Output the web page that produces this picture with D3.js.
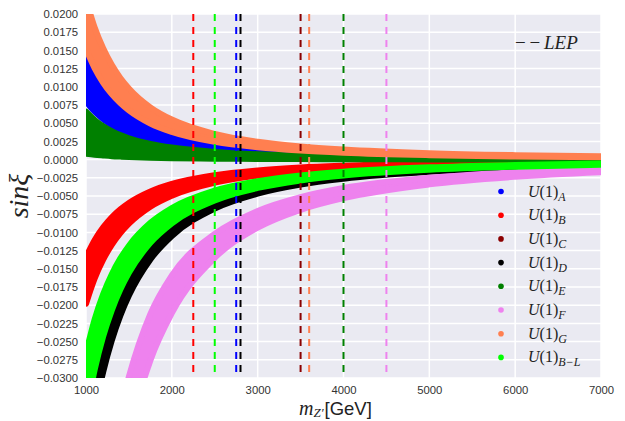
<!DOCTYPE html>
<html>
<head>
<meta charset="utf-8">
<script src="https://cdn.jsdelivr.net/npm/d3@7"></script>
<style>
  body { margin: 0; background: #fff; }
  text { font-family: "Liberation Sans", Arial, sans-serif; }
</style>
</head>
<body>
<div id="my_dataviz"></div>
<script>
const masses = [1000, 1100, 1200, 1300, 1400, 1500, 1750, 2000, 2500, 3000, 3500, 4000, 5000, 6000, 7000];

// sin(xi) band edges for each model
const aUpper  = [0.0152, 0.01256, 0.01056, 0.00899, 0.00776, 0.00676, 0.00496, 0.0038, 0.00243, 0.00169, 0.00124, 0.00095, 0.00061, 0.00042, 0.00031];
const aLower  = [0.0080, 0.00661, 0.00556, 0.00473, 0.00408, 0.00356, 0.00261, 0.0020, 0.00128, 0.00089, 0.00065, 0.0005, 0.00032, 0.00022, 0.00016];
const bUpper  = [-0.0134, -0.01107, -0.00931, -0.00793, -0.00684, -0.00596, -0.00438, -0.00335, -0.00214, -0.00149, -0.00109, -0.00084, -0.00054, -0.00037, -0.00027];
const bLower  = [-0.0198, -0.01636, -0.01375, -0.01172, -0.0101, -0.0088, -0.00646, -0.00495, -0.00317, -0.0022, -0.00162, -0.00124, -0.00079, -0.00055, -0.0004];
const dUpper  = [-0.032, -0.02645, -0.02222, -0.01893, -0.01633, -0.01422, -0.01045, -0.008, -0.00512, -0.00356, -0.00261, -0.002, -0.00128, -0.00089, -0.00065];
const dLower  = [-0.042, -0.03471, -0.02917, -0.02485, -0.02143, -0.01867, -0.01371, -0.0105, -0.00672, -0.00467, -0.00343, -0.00263, -0.00168, -0.00117, -0.00086];
const eUpper  = [0.0066, 0.00545, 0.00458, 0.00391, 0.00337, 0.00293, 0.00216, 0.00165, 0.00106, 0.00073, 0.00054, 0.00041, 0.00026, 0.00018, 0.00013];
const eLower  = [0.0008, 0.00066, 0.00056, 0.00047, 0.00041, 0.00036, 0.00026, 0.0002, 0.00013, 0.00009, 0.00007, 0.00005, 0.00003, 0.00002, 0.00002];
const fUpper  = [-0.066, -0.0545, -0.0465, -0.0400, -0.0344, -0.0298, -0.0212, -0.0159, -0.01020, -0.00705, -0.00515, -0.0039, -0.00250, -0.00172, -0.00128];
const fLower  = [-0.086, -0.0711, -0.0600, -0.0515, -0.0440, -0.0378, -0.0276, -0.0211, -0.01350, -0.00935, -0.00690, -0.00530, -0.00340, -0.00236, -0.00174];
const gUpper  = [0.0220, 0.01818, 0.01528, 0.01302, 0.01122, 0.00978, 0.00718, 0.0055, 0.00352, 0.00244, 0.0018, 0.00138, 0.00088, 0.00061, 0.00045];
const gLower  = [0.0152, 0.01256, 0.01056, 0.00899, 0.00776, 0.00676, 0.00496, 0.0038, 0.00243, 0.00169, 0.00124, 0.00095, 0.00061, 0.00042, 0.00031];
const blUpper = [-0.0266, -0.02198, -0.01847, -0.01574, -0.01357, -0.01182, -0.00869, -0.00665, -0.00426, -0.00296, -0.00217, -0.00166, -0.00106, -0.00074, -0.00054];
const blLower = [-0.035, -0.02893, -0.0243, -0.02071, -0.01786, -0.01556, -0.01143, -0.00875, -0.0056, -0.00389, -0.00286, -0.00219, -0.0014, -0.00097, -0.00071];

// legend order
const models = ["A", "B", "C", "D", "E", "F", "G", "B\u2212L"];
const colors = ["blue", "red", "darkred", "black", "green", "violet", "coral", "lime"];
// LEP lower limits on m_Z' (GeV), same order as models
const lepLimits = [2750, 2250, 3500, 2800, 4000, 4500, 3600, 2500];

const xTicks = [1000, 2000, 3000, 4000, 5000, 6000, 7000];
const yTicks = [0.02, 0.0175, 0.015, 0.0125, 0.01, 0.0075, 0.005, 0.0025, 0, -0.0025, -0.005, -0.0075, -0.01,
                -0.0125, -0.015, -0.0175, -0.02, -0.0225, -0.025, -0.0275, -0.03];

// drawing order of the bands (later ones on top)
const bands = [
  {color: "blue",   upper: aUpper,  lower: aLower},
  {color: "red",    upper: bUpper,  lower: bLower},
  {color: "black",  upper: dUpper,  lower: dLower},
  {color: "green",  upper: eUpper,  lower: eLower},
  {color: "violet", upper: fUpper,  lower: fLower},
  {color: "coral",  upper: gUpper,  lower: gLower},
  {color: "lime",   upper: blUpper, lower: blLower}
];

const width = 625, height = 421;
const margin = {top: 14, right: 24, bottom: 43, left: 86};
const w = width - margin.left - margin.right;
const h = height - margin.top - margin.bottom;

const svg = d3.select("#my_dataviz")
  .append("svg")
    .attr("width", width)
    .attr("height", height)
  .append("g")
    .attr("transform", `translate(${margin.left},${margin.top})`);

const x = d3.scaleLinear().domain([1000, 7000]).range([0, w]);
const y = d3.scaleLinear().domain([-0.03, 0.02]).range([h, 0]);

// background + grid (seaborn darkgrid look)
svg.append("rect").attr("width", w).attr("height", h).attr("fill", "#EAEAF2");
svg.selectAll("line.gx").data(xTicks).join("line")
  .attr("class", "gx")
  .attr("x1", d => x(d)).attr("x2", d => x(d))
  .attr("y1", 0).attr("y2", h)
  .attr("stroke", "white").attr("stroke-width", 1.5);
svg.selectAll("line.gy").data(yTicks).join("line")
  .attr("class", "gy")
  .attr("y1", d => y(d)).attr("y2", d => y(d))
  .attr("x1", 0).attr("x2", w)
  .attr("stroke", "white").attr("stroke-width", 1.5);

svg.append("clipPath").attr("id", "clip")
  .append("rect").attr("width", w).attr("height", h);

const plot = svg.append("g").attr("clip-path", "url(#clip)");

// the scatter bands: area + thick stroke of same colour mimics the marker size
const area = d3.area()
  .x((d, i) => x(masses[i]))
  .y0(d => y(d[1]))
  .y1(d => y(d[0]))
  .curve(d3.curveMonotoneX);

plot.selectAll("path.band")
  .data(bands)
  .join("path")
    .attr("class", "band")
    .attr("d", b => area(b.upper.map((u, i) => [u, b.lower[i]])))
    .attr("fill", b => b.color)
    .attr("stroke", b => b.color)
    .attr("stroke-width", 6)
    .attr("stroke-linejoin", "round");

// LEP limits, dashed
plot.selectAll("line.lep")
  .data(lepLimits)
  .join("line")
    .attr("class", "lep")
    .attr("x1", d => x(d)).attr("x2", d => x(d))
    .attr("y1", 0).attr("y2", h)
    .attr("stroke", (d, i) => colors[i])
    .attr("stroke-width", 2)
    .attr("stroke-dasharray", "7,6");

// axes (labels only)
const xAxis = svg.append("g")
  .attr("transform", `translate(0,${h})`)
  .call(d3.axisBottom(x).tickValues(xTicks).tickSize(0).tickPadding(8).tickFormat(d3.format("d")));
const yAxis = svg.append("g")
  .call(d3.axisLeft(y).tickValues(yTicks).tickSize(0).tickPadding(8).tickFormat(d3.format(".4f")));
[xAxis, yAxis].forEach(a => {
  a.select(".domain").remove();
  a.selectAll("text")
    .style("font-family", "'Liberation Sans', Arial, sans-serif")
    .style("font-size", "11.3px")
    .attr("fill", "#333");
});

// axis titles
svg.append("text")
  .attr("transform", `translate(${28 - margin.left},${196 - margin.top}) rotate(-90)`)
  .attr("text-anchor", "middle")
  .style("font-family", "'Liberation Serif', serif")
  .style("font-style", "italic")
  .style("font-size", "28px")
  .attr("fill", "#222")
  .text("sin\u03be");

const xl = svg.append("text")
  .attr("x", 299 - margin.left)
  .attr("y", 415 - margin.top)
  .attr("fill", "#222");
xl.append("tspan")
  .style("font-family", "'Liberation Serif', serif").style("font-style", "italic").style("font-size", "20px")
  .text("m");
xl.append("tspan")
  .attr("dy", 2)
  .style("font-family", "'Liberation Serif', serif").style("font-style", "italic").style("font-size", "13px")
  .text("Z\u2032");
xl.append("tspan")
  .attr("dy", -2)
  .attr("dx", 1)
  .style("font-family", "'Liberation Sans', Arial, sans-serif").style("font-size", "18.5px")
  .text("[GeV]");

// "--LEP" note
const lep = svg.append("text")
  .attr("x", 515 - margin.left)
  .attr("y", 49 - margin.top)
  .attr("fill", "#222")
  .style("font-family", "'Liberation Serif', serif")
  .style("font-size", "19px");
lep.append("tspan").text("\u2212\u2009\u2212\u2009");
lep.append("tspan").style("font-style", "italic").text("LEP");

// legend
const legend = svg.selectAll("g.leg")
  .data(models)
  .join("g")
    .attr("class", "leg")
    .attr("transform", (d, i) => `translate(${501 - margin.left},${191.5 + i * 23.7 - margin.top})`);
legend.append("circle")
  .attr("r", 2.8)
  .attr("fill", (d, i) => colors[i]);
const lt = legend.append("text")
  .attr("x", 27)
  .attr("y", 5)
  .attr("fill", "#222")
  .style("font-family", "'Liberation Serif', serif")
  .style("font-size", "16px");
lt.append("tspan").style("font-style", "italic").text("U");
lt.append("tspan").text("(1)");
lt.append("tspan")
  .attr("dy", 4)
  .style("font-style", "italic")
  .style("font-size", "12px")
  .text(d => d);
</script>
</body>
</html>
